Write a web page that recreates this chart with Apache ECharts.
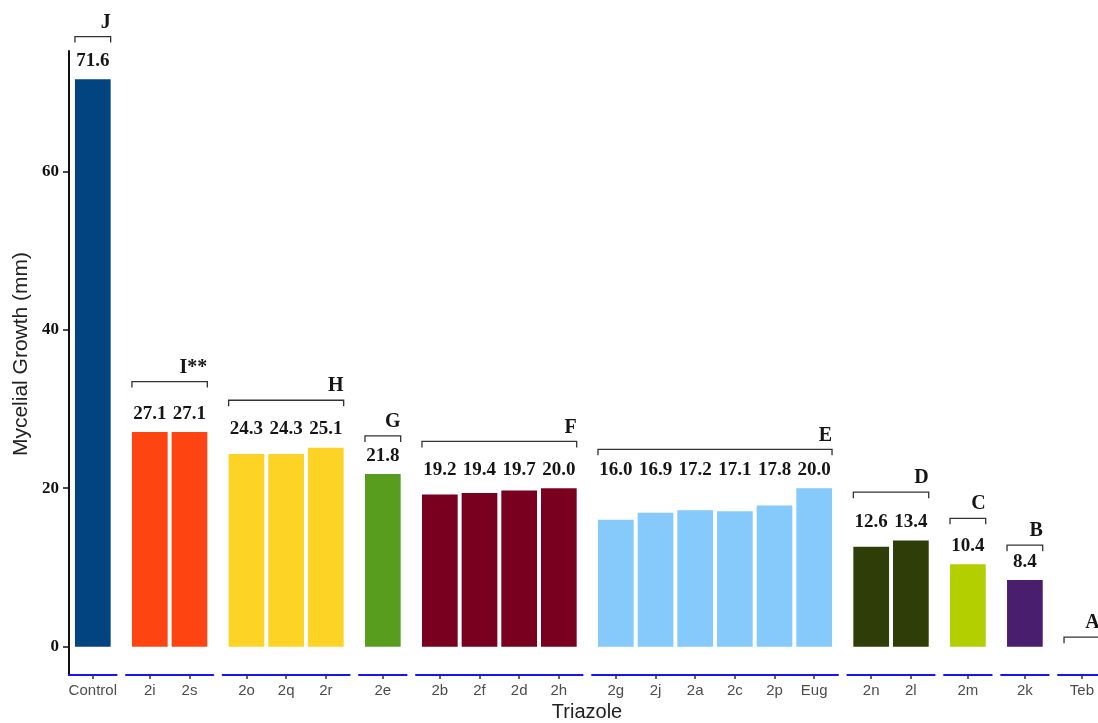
<!DOCTYPE html>
<html>
<head>
<meta charset="utf-8">
<script src="https://cdn.jsdelivr.net/npm/echarts@6/dist/echarts.min.js"></script>
<style>
  html, body { margin: 0; padding: 0; background: #fff; }
  #main { width: 1098px; height: 723px; }
</style>
</head>
<body>
<div id="main"></div>
<script>
// groups of triazoles, one facet each
const groupLetters = ["J", "I**", "H", "G", "F", "E", "D", "C", "B", "A"];
const categories = [
  ["Control"],
  ["2i", "2s"],
  ["2o", "2q", "2r"],
  ["2e"],
  ["2b", "2f", "2d", "2h"],
  ["2g", "2j", "2a", "2c", "2p", "Eug"],
  ["2n", "2l"],
  ["2m"],
  ["2k"],
  ["Teb"],
];
const growth = [
  [71.6],
  [27.1, 27.1],
  [24.3, 24.3, 25.1],
  [21.8],
  [19.2, 19.4, 19.7, 20.0],
  [16.0, 16.9, 17.2, 17.1, 17.8, 20.0],
  [12.6, 13.4],
  [10.4],
  [8.4],
  [0],
];
// height of the letter bracket of each group (mm)
const bracketLevel = [77.0, 33.45, 31.1, 26.6, 25.9, 24.9, 19.5, 16.2, 12.8, 1.2];
const yTicks = [0, 20, 40, 60];
const barColors = [
  "#01447f", "#fe4511", "#fdd325", "#599d1f", "#7a0020",
  "#86c9fb", "#2f3d08", "#b3cf00", "#4a1e6e", "#999999",
];

const Y_MIN = -3.58;
const Y_MAX = 75.18;

// facet layout (ggplot facet_grid, space = "free")
const unit = 39.67;
const gap = 9.4;
const plotLeft = 69;
const plotTop = 51;
const plotBottom = 48;

const serifBold = 'bold 19px "Liberation Serif", "Times New Roman", serif';

const grids = [];
const xAxes = [];
const yAxes = [];
const series = [];

let cursor = plotLeft;
categories.forEach((cats, i) => {
  const n = cats.length;
  const w = unit * (n + 0.2);
  grids.push({ left: cursor, width: w, top: plotTop, bottom: plotBottom, outerBoundsMode: "none" });
  cursor += w + gap;

  const tickVals = cats.map((c, j) => j + 1);
  xAxes.push({
    gridIndex: i,
    type: "value",
    min: 0.4,
    max: n + 0.6,
    axisLine: { show: true, onZero: false, lineStyle: { color: "#1414f5", width: 2 } },
    axisTick: { show: true, customValues: tickVals, length: 4, lineStyle: { color: "#333", width: 1.5 } },
    axisLabel: {
      show: true,
      customValues: tickVals,
      formatter: (v) => cats[Math.round(v) - 1] || "",
      color: "#4d4d4d",
      fontSize: 15,
      fontFamily: '"Liberation Sans", Arial, sans-serif',
      margin: 8,
    },
    splitLine: { show: false },
  });

  yAxes.push({
    gridIndex: i,
    type: "value",
    min: Y_MIN,
    max: Y_MAX,
    show: i === 0,
    axisLine: { show: true, onZero: false, lineStyle: { color: "#111", width: 2 } },
    axisTick: { show: true, customValues: yTicks, length: 6, lineStyle: { color: "#111", width: 1.5 } },
    axisLabel: {
      customValues: yTicks,
      color: "#111",
      fontSize: 17,
      fontWeight: "bold",
      fontFamily: '"Liberation Serif", "Times New Roman", serif',
      margin: 10,
    },
    splitLine: { show: false },
  });

  const vals = growth[i];
  const groupMax = Math.max(...vals);
  const color = barColors[i];

  // bars + value labels
  series.push({
    type: "custom",
    xAxisIndex: i,
    yAxisIndex: i,
    clip: false,
    data: vals.map((v, j) => [j + 1, v, groupMax + 2.3]),
    renderItem: (params, api) => {
      const x = api.value(0);
      const v = api.value(1);
      const ly = api.value(2);
      const children = [];
      if (v > 0) {
        const p0 = api.coord([x - 0.45, 0]);
        const p1 = api.coord([x + 0.45, v]);
        children.push({
          type: "rect",
          shape: { x: p0[0], y: p1[1], width: p1[0] - p0[0], height: p0[1] - p1[1] },
          style: { fill: color },
        });
        const t = api.coord([x, ly]);
        children.push({
          type: "text",
          x: t[0],
          y: t[1],
          style: { text: v.toFixed(1), font: serifBold, fill: "#151515", align: "center", verticalAlign: "middle" },
        });
      }
      return { type: "group", children: children };
    },
  });

  // bracket + letter
  series.push({
    type: "custom",
    xAxisIndex: i,
    yAxisIndex: i,
    clip: false,
    silent: true,
    data: [[1 - 0.45, n + 0.45, bracketLevel[i]]],
    renderItem: (params, api) => {
      const a = api.coord([api.value(0), api.value(2)]);
      const b = api.coord([api.value(1), api.value(2)]);
      return {
        type: "group",
        children: [
          {
            type: "polyline",
            shape: { points: [[a[0], a[1] + 6], [a[0], a[1]], [b[0], b[1]], [b[0], b[1] + 6]] },
            style: { stroke: "#333", lineWidth: 1.3, fill: null },
          },
          {
            type: "text",
            x: b[0],
            y: b[1] - 14,
            style: {
              text: groupLetters[i],
              font: 'bold 20px "Liberation Serif", "Times New Roman", serif',
              fill: "#151515",
              align: "right",
              verticalAlign: "middle",
            },
          },
        ],
      };
    },
  });
});

const chart = echarts.init(document.getElementById("main"));
chart.setOption({
  animation: false,
  backgroundColor: "#fff",
  grid: grids,
  xAxis: xAxes,
  yAxis: yAxes,
  series: series,
  graphic: [
    {
      type: "text",
      x: 21,
      y: 354,
      rotation: Math.PI / 2,
      style: {
        text: "Mycelial Growth (mm)",
        font: '21px "Liberation Sans", Arial, sans-serif',
        fill: "#222",
        align: "center",
        verticalAlign: "middle",
      },
    },
    {
      type: "text",
      x: 587,
      y: 712,
      style: {
        text: "Triazole",
        font: '20px "Liberation Sans", Arial, sans-serif',
        fill: "#222",
        align: "center",
        verticalAlign: "middle",
      },
    },
  ],
});
</script>
</body>
</html>
